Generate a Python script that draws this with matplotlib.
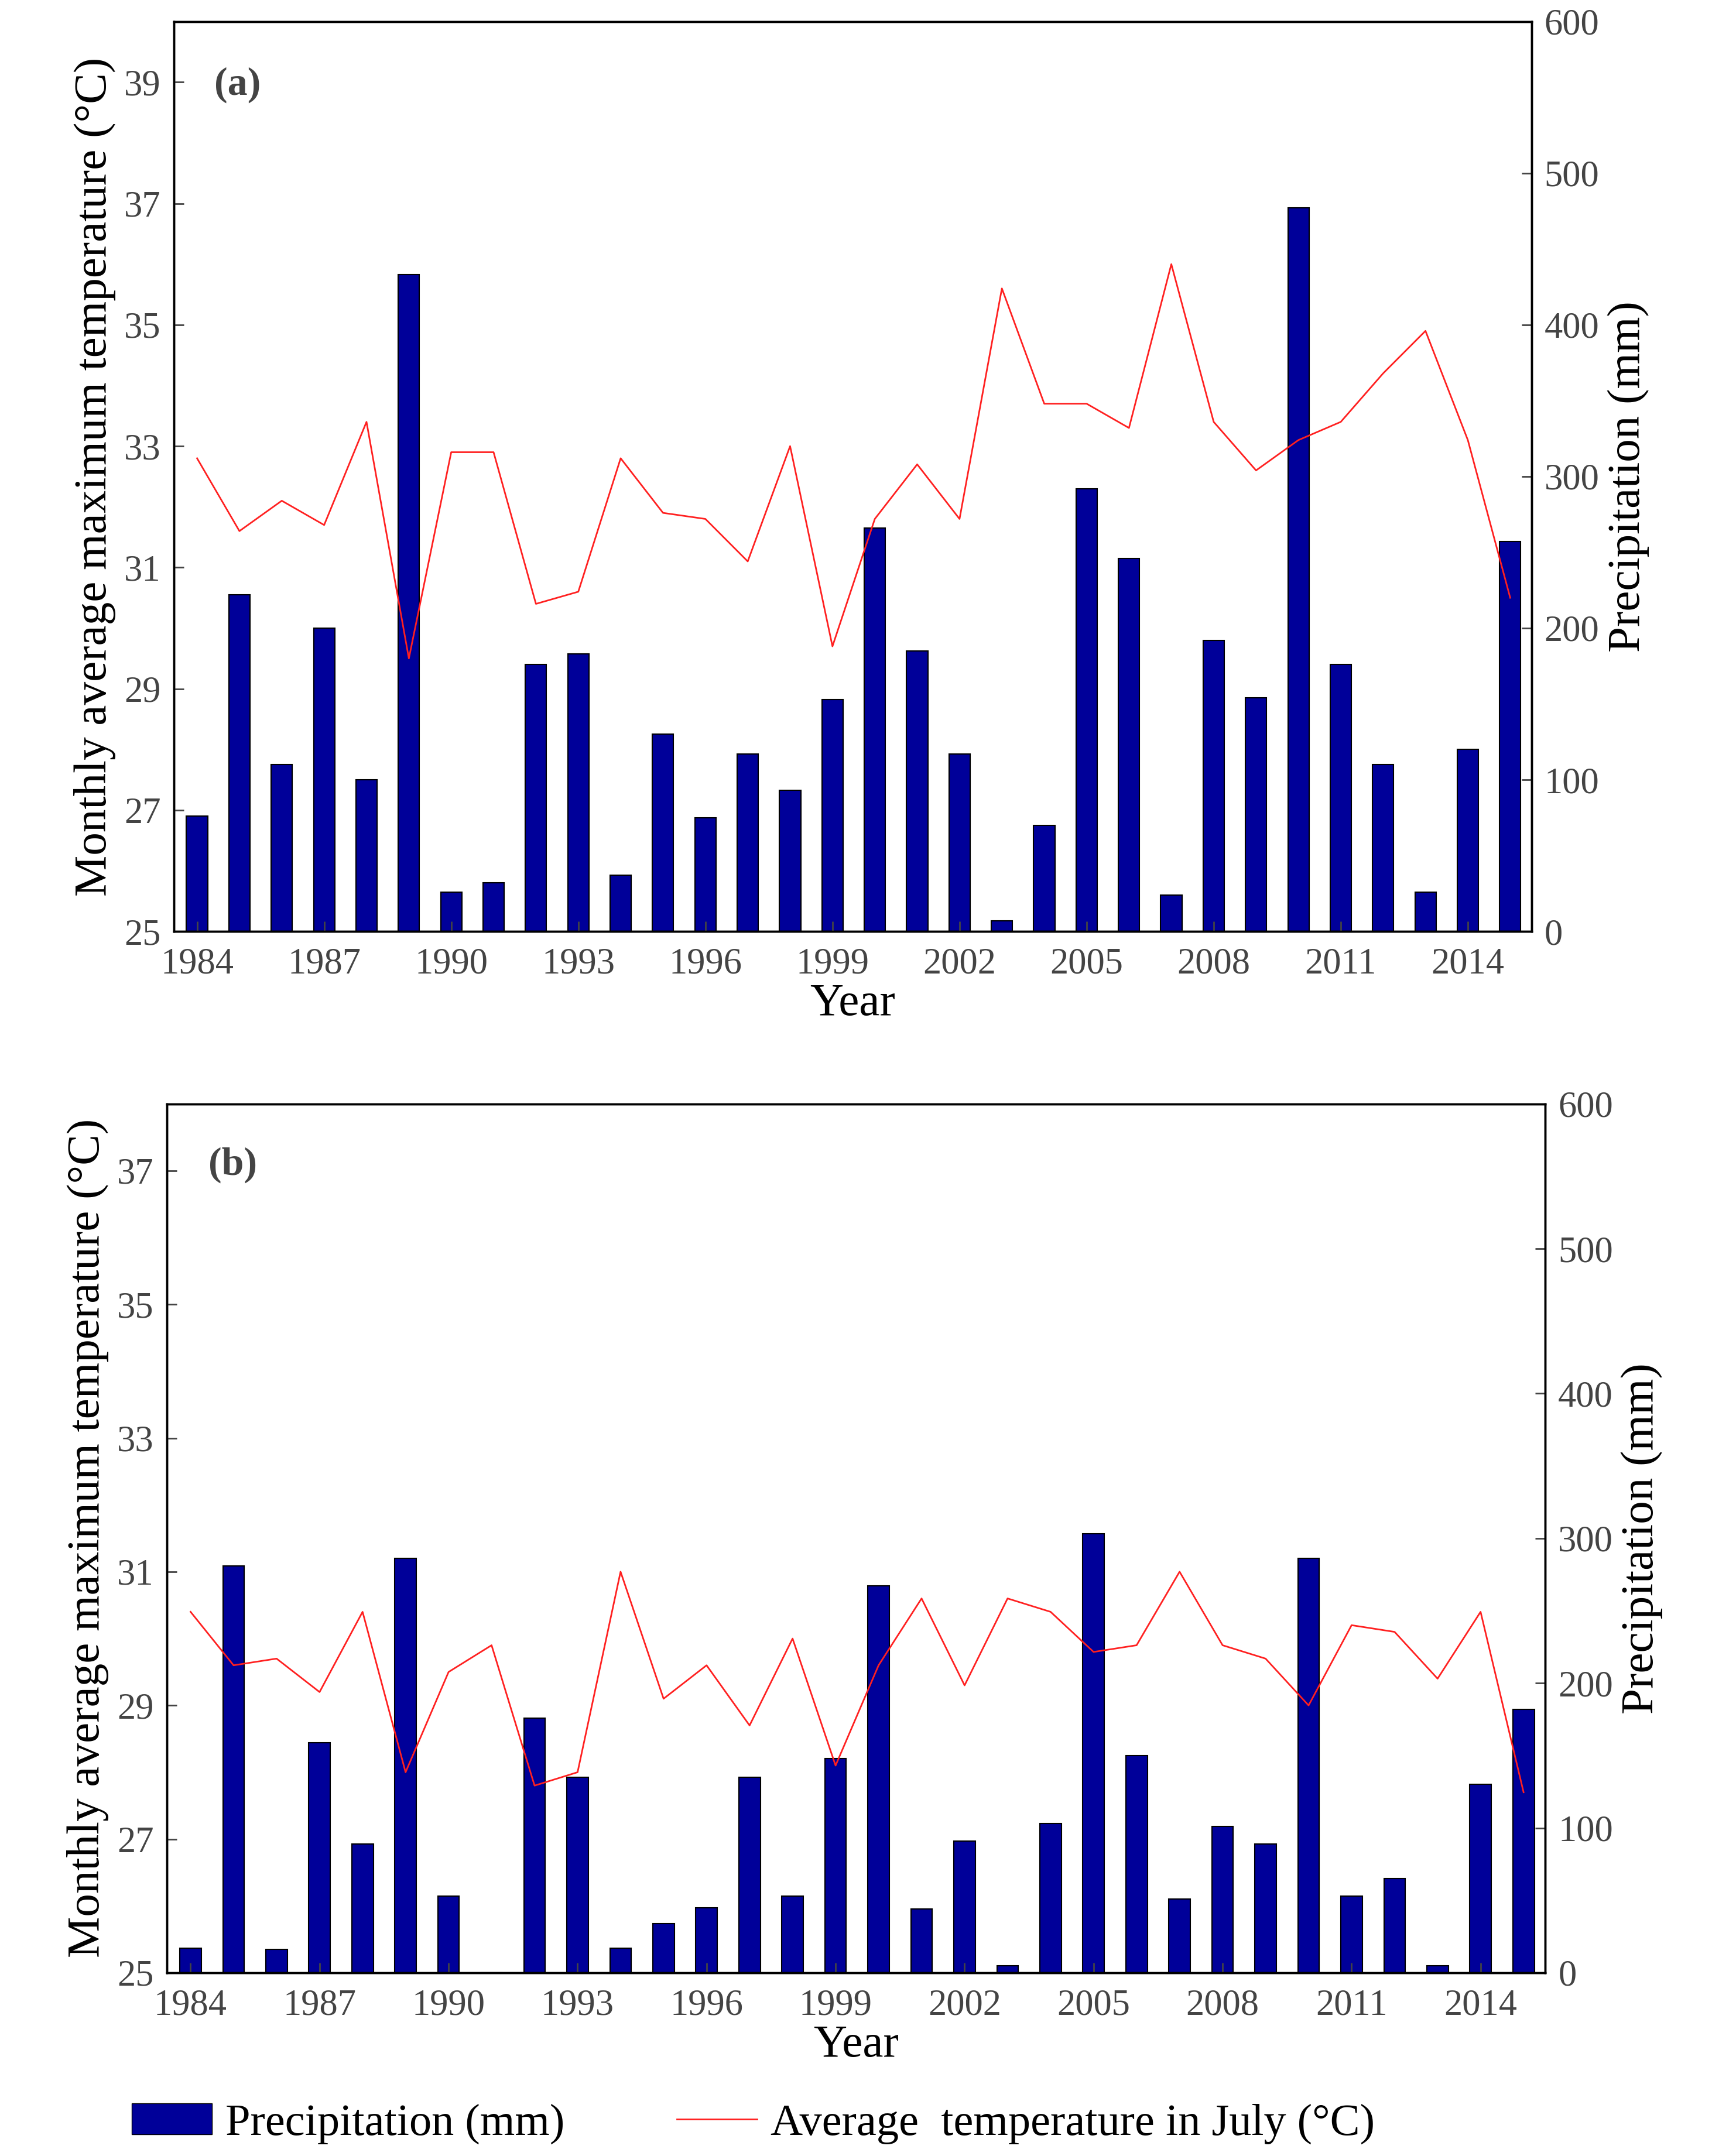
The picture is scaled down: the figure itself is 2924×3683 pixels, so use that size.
import matplotlib
matplotlib.use("Agg")
import matplotlib.pyplot as plt
from matplotlib.patches import Patch
from matplotlib.lines import Line2D

plt.rcParams['font.family'] = ['Liberation Serif', 'DejaVu Serif']

years = list(range(1984, 2016))
precip_a = [76,222,110,200,100,433,26,32,176,183,37,130,75,117,93,153,266,185,117,7,70,292,246,24,192,154,477,176,110,26,120,257]
temp_a = [32.8,31.6,32.1,31.7,33.4,29.5,32.9,32.9,30.4,30.6,32.8,31.9,31.8,31.1,33.0,29.7,31.8,32.7,31.8,35.6,33.7,33.7,33.3,36.0,33.4,32.6,33.1,33.4,34.2,34.9,33.1,30.5]
precip_b = [17,281,16,159,89,286,53,0,176,135,17,34,45,135,53,148,267,44,91,5,103,303,150,51,101,89,286,53,65,5,130,182]
temp_b = [30.4,29.6,29.7,29.2,30.4,28.0,29.5,29.9,27.8,28.0,31.0,29.1,29.6,28.7,30.0,28.1,29.6,30.6,29.3,30.6,30.4,29.8,29.9,31.0,29.9,29.7,29.0,30.2,30.1,29.4,30.4,27.7]
xticks = list(range(1984, 2016, 3))

fig = plt.figure(figsize=(29.24, 36.83), dpi=100)
FS = 45
LFS = 57
BAR = '#000099'

def panel(rect, precip, temp, ymax, yticks, tag):
    ax = fig.add_axes(rect)
    ax2 = ax.twinx()
    ax2.bar(years, precip, width=0.5, color=BAR, edgecolor='black', linewidth=1.5)
    ax.plot(years, temp, color='#ff2020', linewidth=2)
    ax.set_zorder(ax2.get_zorder() + 1)
    ax.patch.set_visible(False)
    ax.set_xlim(1983.45, 2015.5)
    ax.set_ylim(25, ymax)
    ax.set_yticks(yticks)
    ax2.set_ylim(0, 600)
    ax2.set_yticks(range(0, 601, 100))
    ax.set_xticks(xticks)
    for a in (ax, ax2):
        a.tick_params(labelsize=FS, direction='in', length=12, width=2, colors='#444444',
                      labelcolor='#444444', pad=16)
        for s in a.spines.values():
            s.set_linewidth(2.5)
    ax.tick_params(axis='x', pad=20)
    ax.set_xlabel('Year', fontsize=LFS, labelpad=2)
    ax.set_ylabel('Monthly average maximum temperature (°C)', fontsize=LFS, labelpad=10)
    ax2.set_ylabel('Precipitation (mm)', fontsize=LFS, labelpad=10)
    ax.text(0.03, 0.95, tag, transform=ax.transAxes, fontsize=FS+4, fontweight='bold', color='#444444', va='top')
    return ax

panel([0.1015, 0.568, 0.793, 0.422], precip_a, temp_a, 40, range(25, 40, 2), '(a)')
panel([0.0975, 0.085, 0.805, 0.403], precip_b, temp_b, 38, range(25, 38, 2), '(b)')

handles = [Patch(facecolor=BAR, edgecolor='black'), Line2D([], [], color='#ff2020', linewidth=2)]
fig.legend(handles, ['Precipitation (mm)', 'Average  temperature in July (°C)'], loc='center',
           bbox_to_anchor=(0.44, 0.015), ncol=2, frameon=False, fontsize=LFS-2,
           handlelength=1.8, handletextpad=0.3, columnspacing=2.5)

fig.savefig('out.png', dpi=100)
